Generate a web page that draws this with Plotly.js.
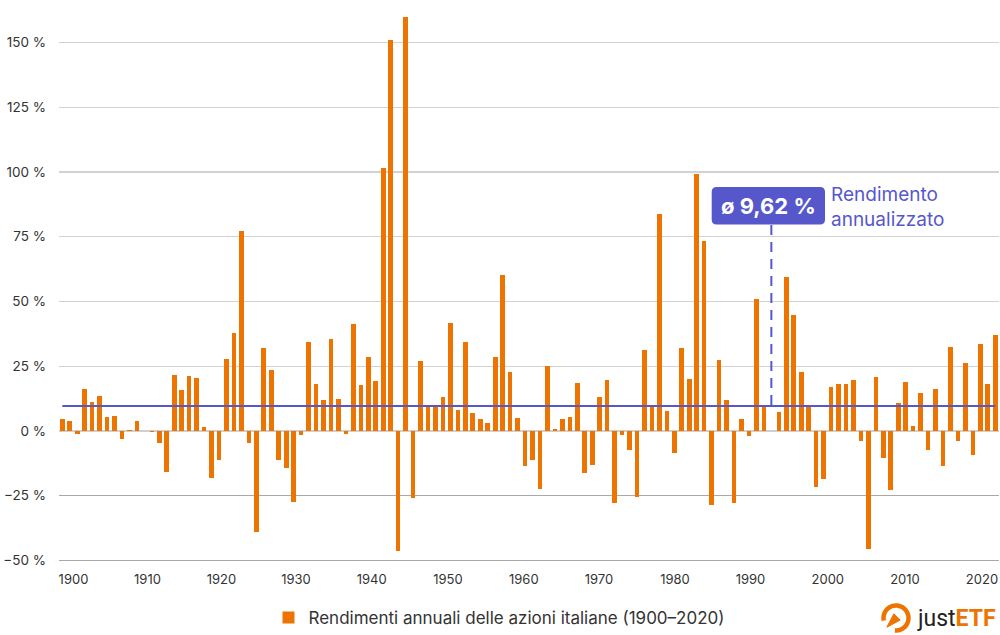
<!DOCTYPE html>
<html>
<head>
<meta charset="utf-8">
<script src="https://cdn.plot.ly/plotly-3.0.1.min.js"></script>
<style>html,body{margin:0;padding:0;background:#fff;}#chart{width:1000px;height:635px;}</style>
</head>
<body>
<div id="chart"></div>
<script>
// ---- data ----
const startYear = 1899;
const returnsPct = [
  4.5, 3.7, -1.3, 16.4, 11.2, 13.4, 5.5, 5.9, -3.1, 0.3,
  3.7, 0.1, -0.3, -4.8, -16.0, 21.6, 15.9, 21.4, 20.5, 1.4,
  -18.3, -11.3, 27.7, 37.8, 77.4, -4.8, -38.9, 32.2, 23.5, -11.2,
  -14.3, -27.3, -1.5, 34.5, 18.3, 11.9, 35.6, 12.2, -1.3, 41.2,
  17.9, 28.7, 19.2, 101.6, 150.9, -46.2, 159.8, -26.0, 27.2, 9.2,
  9.3, 13.3, 41.8, 8.0, 34.5, 7.0, 4.5, 3.2, 28.7, 60.2,
  22.9, 4.9, -13.4, -11.2, -22.4, 25.0, 0.8, 4.5, 5.4, 18.6,
  -16.4, -13.0, 13.3, 19.5, -27.7, -1.7, -7.3, -25.5, 31.3, 9.3,
  83.6, 7.6, -8.6, 32.2, 20.1, 99.4, 73.2, -28.6, 27.6, 12.1,
  -27.7, 4.8, -1.9, 51.0, 9.3, 0.0, 7.4, 59.3, 44.7, 22.9,
  9.3, -21.8, -18.6, 17.1, 18.3, 18.3, 19.6, -3.7, -45.4, 20.9,
  -10.6, -22.7, 10.7, 19.1, 2.1, 14.6, -7.3, 16.4, -13.7, 32.6,
  -4.0, 26.4, -9.4, 33.4, 18.3, 37.1
];
const years = returnsPct.map((_, i) => startYear + i);
const averagePct = 9.62;
const annotationYear = 1994;
const tickLabels = ['1900','1910','1920','1930','1940','1950','1960','1970','1980','1990','2000','2010','2020'];
const tickPositions = [1900.50,1910.41,1920.33,1930.31,1940.45,1950.67,1960.83,1970.90,1981.09,1991.20,2001.56,2011.90,2022.22];
const yTicks = [-50, -25, 0, 25, 50, 75, 100, 125, 150];
const yTickLabels = ['−50 %', '−25 %', '0 %', '25 %', '50 %', '75 %', '100 %', '125 %', '150 %'];
const seriesName = 'Rendimenti annuali delle azioni italiane (1900–2020)';
const boxLabel = 'ø 9,62 %';
const sideLabel = 'Rendimento<br>annualizzato';

// ---- style ----
const ORANGE = '#EE7402';
const INDIGO = '#5757CC';
const FONT = 'Inter, Roboto, "Open Sans", sans-serif';
const M = {l:59, r:1, t:10, b:65, autoexpand: false};
const W = 1000, H = 635;
const PW = W - M.l - M.r, PH = H - M.t - M.b;
const xRange = [1898.56, 2024.50];
const yRange = [-53.67, 162.55];

const px = X => (X - M.l) / PW;           // pixel -> paper x
const py = Y => (H - M.b - Y) / PH;        // pixel -> paper y

function roundRect(x0, y0, x1, y1, r) {
  const a = px(x0), b = px(x1), c = py(y0), d = py(y1);
  const rx = r / PW, ry = r / PH;
  return `M${a+rx},${c} L${b-rx},${c} Q${b},${c} ${b},${c-ry} L${b},${d+ry} Q${b},${d} ${b-rx},${d} L${a+rx},${d} Q${a},${d} ${a},${d+ry} L${a},${c-ry} Q${a},${c} ${a+rx},${c} Z`;
}
function arcPath(cx, cy, r, a0, a1) {
  let s = '';
  const n = 40;
  for (let i = 0; i <= n; i++) {
    const a = (a0 + (a1 - a0) * i / n) * Math.PI / 180;
    const X = cx + r * Math.cos(a), Y = cy - r * Math.sin(a);
    s += (i === 0 ? 'M' : 'L') + px(X) + ',' + py(Y) + ' ';
  }
  return s;
}
function pointerPath(cx, cy) {
  const dir = 225 * Math.PI / 180;
  const perp = dir + Math.PI / 2;
  const tipX = cx + 13 * Math.cos(dir), tipY = cy - 13 * Math.sin(dir);
  const bx = cx - 1.5 * Math.cos(dir), by = cy + 1.5 * Math.sin(dir);
  const b1X = bx + 4.5 * Math.cos(perp), b1Y = by - 4.5 * Math.sin(perp);
  const b2X = bx - 4.5 * Math.cos(perp), b2Y = by + 4.5 * Math.sin(perp);
  return `M${px(tipX)},${py(tipY)} L${px(b1X)},${py(b1Y)} L${px(b2X)},${py(b2Y)} Z`;
}

const traces = [
  {
    type: 'bar', x: years, y: returnsPct, name: seriesName,
    marker: {color: ORANGE, line: {width: 0}}, width: 0.62,
    hoverinfo: 'x+y'
  },
  {
    type: 'scatter', mode: 'lines', x: [years[0], years[years.length-1]],
    y: [averagePct, averagePct], line: {color: INDIGO, width: 2},
    showlegend: false, hoverinfo: 'skip'
  },
  {
    type: 'scatter', x: [years[0]], y: [0], yaxis: 'y2', mode: 'markers',
    marker: {opacity: 0}, showlegend: false, hoverinfo: 'skip'
  }
];

const layout = {
  width: W, height: H,
  margin: M,
  paper_bgcolor: '#fff', plot_bgcolor: '#fff',
  font: {family: FONT, color: '#333', size: 13},
  bargap: 0,
  showlegend: true,
  legend: {
    orientation: 'h', x: px(499), xanchor: 'center', y: py(618), yanchor: 'middle',
    font: {size: 17, color: '#333', family: FONT}, itemwidth: 30
  },
  xaxis: {
    range: xRange, tickmode: 'array', tickvals: tickPositions, ticktext: tickLabels,
    showgrid: false, zeroline: false, showline: false, ticks: '', automargin: false,
    tickfont: {size: 13, color: '#333'}, fixedrange: true
  },
  yaxis: {
    range: yRange, tickmode: 'array', tickvals: yTicks.slice(2), ticktext: yTickLabels.slice(2),
    showgrid: true, gridcolor: '#d2d2d2', gridwidth: 1.2, automargin: false,
    zeroline: true, zerolinecolor: '#cfcfcf', zerolinewidth: 1.2,
    ticks: '', showline: false, ticklabelstandoff: 12,
    tickfont: {size: 13.5, color: '#333'}, fixedrange: true
  },
  yaxis2: {
    range: yRange, overlaying: 'y', side: 'left', tickmode: 'array',
    tickvals: yTicks.slice(0, 2), ticktext: yTickLabels.slice(0, 2),
    showticklabels: true, ticklabelstandoff: 12, automargin: false,
    tickfont: {size: 13.5, color: '#333'},
    showgrid: true, gridcolor: '#a9a9a9', gridwidth: 1.2, zeroline: false, ticks: '', fixedrange: true
  },
  shapes: [
    {type: 'line', xref: 'x', yref: 'paper', x0: annotationYear, x1: annotationYear,
     y0: py(225), y1: py(405), line: {color: INDIGO, width: 2, dash: '10px,7px'}, layer: 'above'},
    {type: 'path', xref: 'paper', yref: 'paper', path: roundRect(711.7, 187, 825, 224.5, 5),
     fillcolor: INDIGO, line: {width: 0}, layer: 'above'},
    {type: 'path', xref: 'paper', yref: 'paper', path: arcPath(896, 618, 12.5, -95, 192),
     line: {color: ORANGE, width: 4.5}, fillcolor: 'rgba(0,0,0,0)', layer: 'above'},
    {type: 'path', xref: 'paper', yref: 'paper', path: pointerPath(896, 618),
     line: {color: ORANGE, width: 1}, fillcolor: ORANGE, layer: 'above'}
  ],
  annotations: [
    {xref: 'paper', yref: 'paper', x: px(768.3), y: py(205.8), xanchor: 'center', yanchor: 'middle',
     text: '<b>' + boxLabel + '</b>', showarrow: false, font: {size: 22, color: '#fff', family: FONT}},
    {xref: 'paper', yref: 'paper', x: px(829), y: py(206.5), xanchor: 'left', yanchor: 'middle',
     text: sideLabel, align: 'left', showarrow: false, font: {size: 19, color: INDIGO, family: FONT}},
    {xref: 'paper', yref: 'paper', x: px(915), y: py(618), xanchor: 'left', yanchor: 'middle',
     text: 'just<b><span style="color:' + ORANGE + '">ETF</span></b>', showarrow: false,
     font: {size: 23, color: '#222', family: 'Roboto, sans-serif'}}
  ]
};

Plotly.newPlot('chart', traces, layout, {displayModeBar: false, staticPlot: true});
</script>
</body>
</html>
